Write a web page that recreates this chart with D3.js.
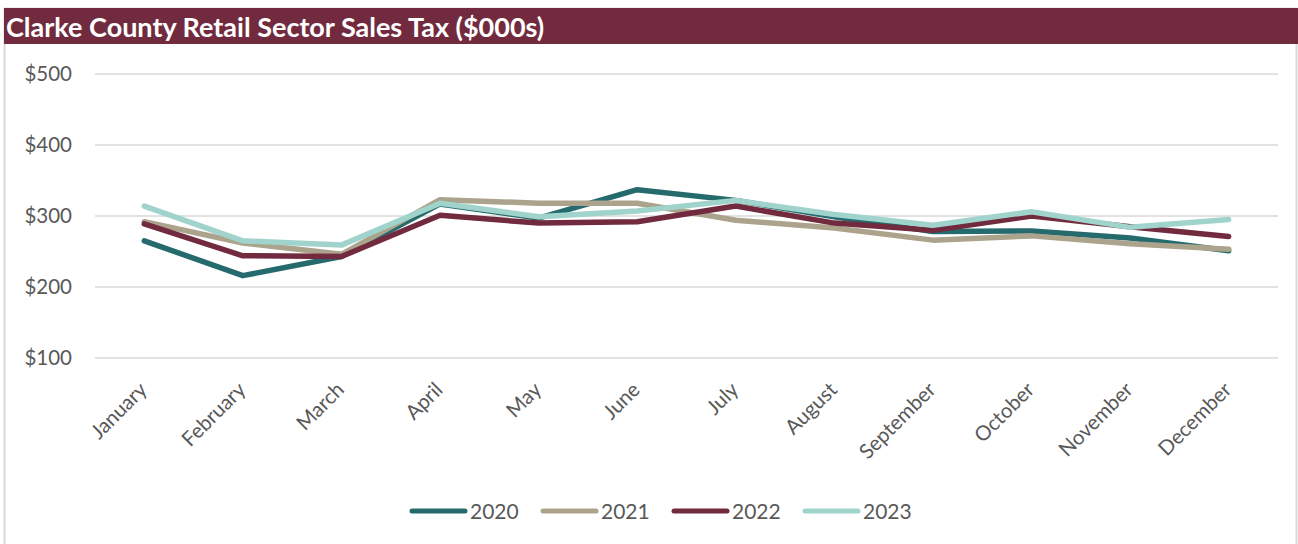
<!DOCTYPE html>
<html lang="en">
<head>
    <meta charset="UTF-8">
    <script src="https://d3js.org/d3.v7.min.js"></script>
    <style>
        body {
            margin: 0;
            font-family: Lato, "Open Sans", sans-serif;
            background: #fff;
        }
        .tick-label {
            font-size: 20.5px;
            fill: #595959;
        }
        .legend-label {
            font-size: 21px;
            fill: #595959;
        }
    </style>
</head>
<body>
    <svg id="chart"></svg>
    <script>
        const months = ["January", "February", "March", "April", "May", "June",
            "July", "August", "September", "October", "November", "December"];
        const years = ["2020", "2021", "2022", "2023"];
        const sales2020 = [265, 216, 243, 317, 297, 337, 322, 299, 278, 279, 269, 251];
        const sales2021 = [292, 262, 246, 323, 318, 318, 294, 283, 266, 272, 261, 253];
        const sales2022 = [289, 244, 243, 301, 290, 292, 314, 290, 280, 300, 285, 271];
        const sales2023 = [314, 265, 259, 318, 299, 307, 322, 302, 287, 306, 284, 295];
        const yTicks = [100, 200, 300, 400, 500];
        const colors = ["#256a6d", "#aba38c", "#712a3e", "#a0d3cc"];

        const series = [sales2020, sales2021, sales2022, sales2023].map((v, i) => ({
            year: years[i],
            color: colors[i],
            values: v.map((s, j) => ({month: months[j], value: s}))
        }));

        const W = 1298, H = 544;
        const svg = d3.select("#chart").attr("width", W).attr("height", H);

        // frame + title bar
        svg.append("rect")
            .attr("x", 4.5).attr("y", 8.5)
            .attr("width", 1292).attr("height", 560)
            .attr("fill", "#fff")
            .attr("stroke", "#d9d9d9")
            .attr("stroke-width", 2);

        svg.append("rect")
            .attr("x", 4).attr("y", 8)
            .attr("width", W - 4).attr("height", 36)
            .attr("fill", "#722b3e");

        svg.append("text")
            .attr("x", 6).attr("y", 37)
            .attr("fill", "#fff")
            .attr("font-size", "27px")
            .attr("font-weight", "bold")
            .text("Clarke County Retail Sector Sales Tax ($000s)");

        const x = d3.scaleBand()
            .domain(months)
            .range([95, 1278]);

        const y = d3.scaleLinear()
            .domain([100, 500])
            .range([358, 74]);

        // gridlines
        svg.append("g")
            .selectAll("line")
            .data(yTicks)
            .enter()
            .append("line")
            .attr("x1", 95).attr("x2", 1278)
            .attr("y1", d => y(d)).attr("y2", d => y(d))
            .attr("stroke", "#d9d9d9")
            .attr("stroke-width", 1.5);

        // y labels
        svg.append("g")
            .selectAll("text")
            .data(yTicks)
            .enter()
            .append("text")
            .attr("class", "tick-label")
            .attr("x", 72)
            .attr("y", d => y(d))
            .attr("dy", "0.35em")
            .attr("text-anchor", "end")
            .text(d => "$" + d);

        // x labels
        svg.append("g")
            .selectAll("text")
            .data(months)
            .enter()
            .append("text")
            .attr("class", "tick-label")
            .attr("text-anchor", "end")
            .attr("transform", d => `translate(${x(d) + x.bandwidth() / 2 + 4},391) rotate(-45)`)
            .text(d => d);

        const line = d3.line()
            .x(d => x(d.month) + x.bandwidth() / 2)
            .y(d => y(d.value));

        svg.append("g")
            .selectAll("path")
            .data(series)
            .enter()
            .append("path")
            .attr("d", d => line(d.values))
            .attr("fill", "none")
            .attr("stroke", d => d.color)
            .attr("stroke-width", 5.5)
            .attr("stroke-linejoin", "round")
            .attr("stroke-linecap", "round");

        // legend
        const legend = svg.append("g")
            .selectAll("g")
            .data(series)
            .enter()
            .append("g")
            .attr("transform", (d, i) => `translate(${412 + i * 131},511)`);

        legend.append("line")
            .attr("x1", 0).attr("x2", 53)
            .attr("stroke", d => d.color)
            .attr("stroke-width", 5)
            .attr("stroke-linecap", "round");

        legend.append("text")
            .attr("class", "legend-label")
            .attr("x", 58)
            .attr("dy", "0.36em")
            .text(d => d.year);
    </script>
</body>
</html>
